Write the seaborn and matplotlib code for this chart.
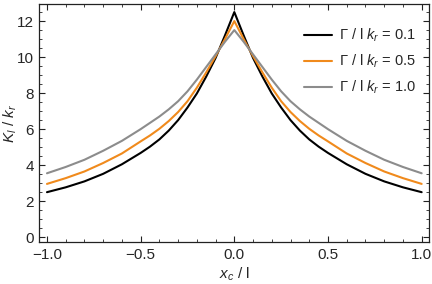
import numpy as np
import pandas as pd
import seaborn as sns
import matplotlib.pyplot as plt
from matplotlib.ticker import MultipleLocator

# values (symmetric in x_c / l)
x_c = [-1.0, -0.9, -0.8, -0.7, -0.6, -0.5, -0.45, -0.4, -0.35, -0.3, -0.25, -0.2, -0.15, -0.1, -0.05,
       0.0, 0.05, 0.1, 0.15, 0.2, 0.25, 0.3, 0.35, 0.4, 0.45, 0.5, 0.6, 0.7, 0.8, 0.9, 1.0]
k_01 = [2.5, 2.77, 3.1, 3.52, 4.05, 4.68, 5.03, 5.43, 5.92, 6.5, 7.2, 7.98, 8.92, 9.95, 11.2,
        12.5, 11.2, 9.95, 8.92, 7.98, 7.2, 6.5, 5.92, 5.43, 5.03, 4.68, 4.05, 3.52, 3.1, 2.77, 2.5]
k_05 = [2.96, 3.28, 3.65, 4.12, 4.65, 5.32, 5.65, 6.02, 6.45, 6.95, 7.55, 8.3, 9.15, 10.05, 11.0,
        12.0, 11.0, 10.05, 9.15, 8.3, 7.55, 6.95, 6.45, 6.02, 5.65, 5.32, 4.65, 4.12, 3.65, 3.28, 2.96]
k_10 = [3.55, 3.9, 4.3, 4.8, 5.35, 6.0, 6.35, 6.7, 7.1, 7.55, 8.1, 8.75, 9.45, 10.15, 10.85,
        11.5, 10.85, 10.15, 9.45, 8.75, 8.1, 7.55, 7.1, 6.7, 6.35, 6.0, 5.35, 4.8, 4.3, 3.9, 3.55]
labels = [r"$\Gamma$ / l $k_r$ = 0.1", r"$\Gamma$ / l $k_r$ = 0.5", r"$\Gamma$ / l $k_r$ = 1.0"]
colors = ["#000000", "#F08A1C", "#8C8C8C"]

df = pd.concat([
    pd.DataFrame({"x": x_c, "y": k_01, "curve": labels[0]}),
    pd.DataFrame({"x": x_c, "y": k_05, "curve": labels[1]}),
    pd.DataFrame({"x": x_c, "y": k_10, "curve": labels[2]}),
])

sns.set_style("ticks")
plt.rcParams["font.family"] = ["Liberation Sans", "DejaVu Sans"]
plt.rcParams["mathtext.fontset"] = "custom"
plt.rcParams["mathtext.it"] = "Liberation Sans:italic"
plt.rcParams["mathtext.rm"] = "Liberation Sans"

fig = plt.figure(figsize=(4.32, 2.84), dpi=100)
ax = fig.add_axes([0.0914, 0.147, 0.902, 0.839])

sns.lineplot(data=df, x="x", y="y", hue="curve", palette=colors, linewidth=1.5,
             sort=False, estimator=None, ax=ax)

ax.set_xlim(-1.04, 1.04)
ax.set_ylim(-0.28, 12.95)
ax.xaxis.set_major_locator(MultipleLocator(0.5))
ax.xaxis.set_minor_locator(MultipleLocator(0.1))
ax.yaxis.set_major_locator(MultipleLocator(2))
ax.yaxis.set_minor_locator(MultipleLocator(0.5))
ax.set_xticklabels([f"{v:.1f}".replace("-", "\u2212") for v in ax.get_xticks()])
ax.tick_params(which="both", direction="in", top=True, right=True, labelsize=11,
               color="#222222", pad=4)
ax.tick_params(which="major", length=4, width=0.8)
ax.tick_params(which="minor", length=2, width=0.6)
for s in ax.spines.values():
    s.set_color("#222222")
    s.set_linewidth(0.9)

ax.set_xlabel(r"$x_c$ / l", fontsize=11, labelpad=3)
ax.set_ylabel(r"$K_l$ / $k_r$", fontsize=11)
ax.yaxis.set_label_coords(-0.052, 0.5)

leg = ax.legend(loc="upper right", bbox_to_anchor=(1.0, 0.96), frameon=False,
                fontsize=10.5, handlelength=1.9, handletextpad=0.5, labelspacing=0.6)
for line in leg.get_lines():
    line.set_linewidth(1.5)

fig.savefig("out.png", dpi=100)
